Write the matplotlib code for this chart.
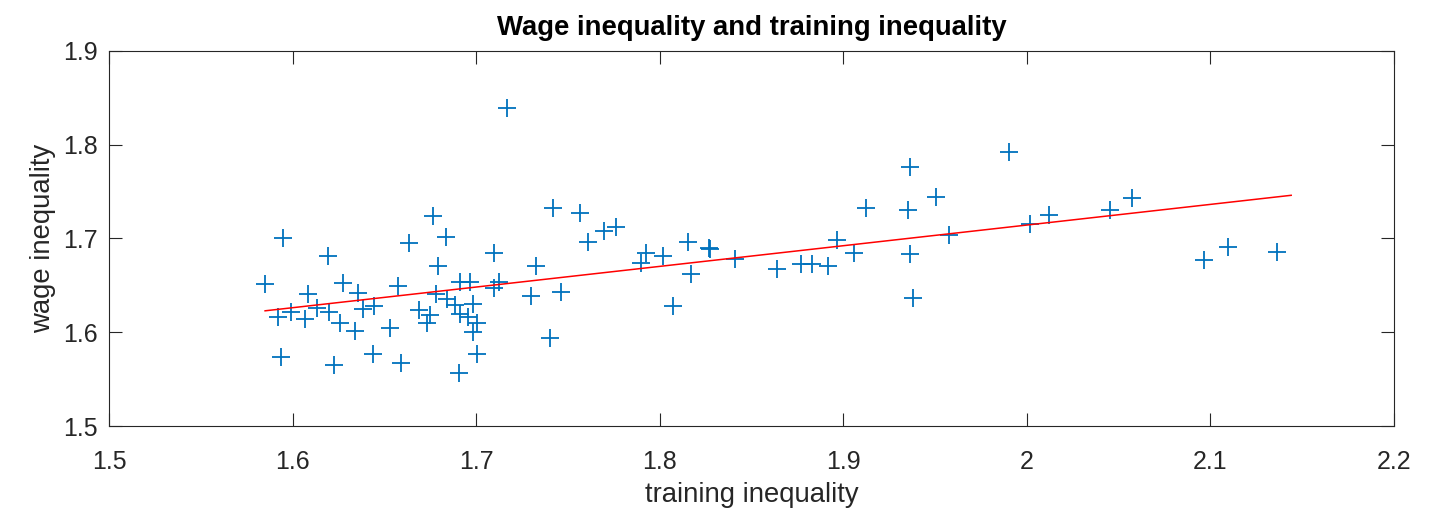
import numpy as np
import matplotlib
matplotlib.use('Agg')
import matplotlib.pyplot as plt

plt.rcParams['font.family'] = ['Liberation Sans', 'DejaVu Sans']

# data
training_ineq = [1.5850, 1.5946, 1.5922, 1.5939, 1.5990, 1.6068, 1.6086, 1.6131, 1.6191, 1.6198,
                 1.6226, 1.6258, 1.6277, 1.6340, 1.6358, 1.6385, 1.6445, 1.6437, 1.6531, 1.6574,
                 1.6592, 1.6634, 1.6687, 1.6731, 1.6749, 1.6767, 1.6781, 1.6792, 1.6836, 1.6841,
                 1.6885, 1.6905, 1.6912, 1.6912, 1.6957, 1.6967, 1.6985, 1.6982, 1.7007, 1.7003,
                 1.7097, 1.7099, 1.7123, 1.7166, 1.7297, 1.7324, 1.7402, 1.7420, 1.7462, 1.7567,
                 1.7611, 1.7698, 1.7760, 1.7898, 1.7925, 1.8020, 1.8071, 1.8152, 1.8169, 1.8270,
                 1.8276, 1.8410, 1.8637, 1.8768, 1.8831, 1.8918, 1.8964, 1.9058, 1.9122, 1.9363,
                 1.9354, 1.9363, 1.9381, 1.9503, 1.9576, 1.9903, 2.0017, 2.0121, 2.0453, 2.0574,
                 2.0967, 2.1097, 2.1361]
wage_ineq = [1.6516, 1.7002, 1.6161, 1.5741, 1.6214, 1.6140, 1.6406, 1.6257, 1.6814, 1.6220,
             1.5653, 1.6097, 1.6523, 1.6012, 1.6422, 1.6247, 1.6283, 1.5770, 1.6044, 1.6497,
             1.5671, 1.6949, 1.6235, 1.6097, 1.6185, 1.7240, 1.6409, 1.6709, 1.7013, 1.6356,
             1.6292, 1.5571, 1.6540, 1.6196, 1.6159, 1.6540, 1.6302, 1.6007, 1.6097, 1.5770,
             1.6849, 1.6470, 1.6542, 1.8393, 1.6388, 1.6710, 1.5944, 1.7322, 1.6434, 1.7275,
             1.6966, 1.7083, 1.7126, 1.6742, 1.6849, 1.6814, 1.6284, 1.6966, 1.6622, 1.6902,
             1.6883, 1.6782, 1.6675, 1.6725, 1.6725, 1.6707, 1.6984, 1.6849, 1.7322, 1.7765,
             1.7304, 1.6832, 1.6370, 1.7445, 1.7037, 1.7918, 1.7151, 1.7250, 1.7303, 1.7428,
             1.6771, 1.6913, 1.6860]

# fitted line endpoints as drawn
fit_x = [1.585, 2.144]
fit_y = [1.623, 1.746]

xticks = [1.5, 1.6, 1.7, 1.8, 1.9, 2.0, 2.1, 2.2]
xticklabels = ['1.5', '1.6', '1.7', '1.8', '1.9', '2', '2.1', '2.2']
yticks = [1.5, 1.6, 1.7, 1.8, 1.9]

axcol = '#262626'

fig = plt.figure(figsize=(14.56, 5.15), dpi=100)
ax = fig.add_axes([0.0749, 0.1722, 0.8825, 0.7294])

ax.plot(training_ineq, wage_ineq, '+', color='#0072BD', markersize=13, markeredgewidth=1.3)
ax.plot(fit_x, fit_y, '-', color='#FF0000', linewidth=1.1)

ax.set_xlim(1.5, 2.2)
ax.set_ylim(1.5, 1.9)
ax.set_xticks(xticks)
ax.set_xticklabels(xticklabels)
ax.set_yticks(yticks)

ax.tick_params(direction='in', length=9.4, width=0.8, colors=axcol, labelsize=18,
               top=True, right=True, pad=8)
ax.tick_params(axis='x', pad=17)
for s in ax.spines.values():
    s.set_color(axcol)
    s.set_linewidth(0.8)

ax.set_xlabel('training inequality', fontsize=19.8, color=axcol, labelpad=6)
ax.set_ylabel('wage inequality', fontsize=19.8, color=axcol, labelpad=5)
ax.set_title('Wage inequality and training inequality', fontsize=19.8, fontweight='bold',
             color='black', pad=11)

fig.savefig('out.png', dpi=100)
